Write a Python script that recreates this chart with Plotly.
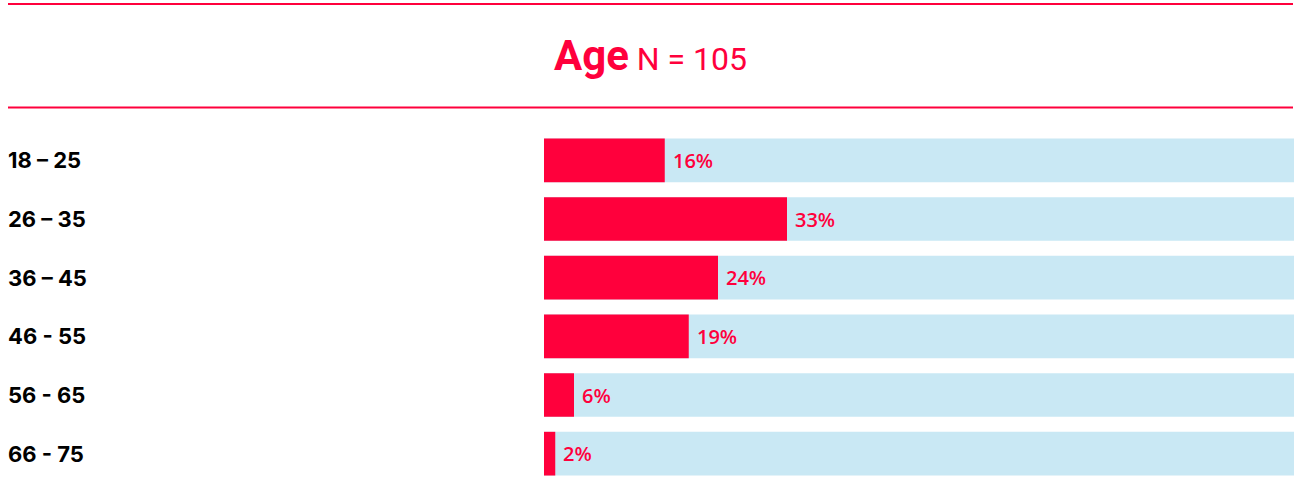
import plotly.graph_objects as go

categories = ["18 – 25", "26 – 35", "36 – 45", "46 - 55", "56 - 65", "66 - 75"]
values = [16.1, 32.4, 23.2, 19.3, 4.0, 1.5]
labels = ["16%", "33%", "24%", "19%", "6%", "2%"]
full = [100] * len(categories)

RED = "#FF003C"
BLUE = "#C9E8F4"

W, H = 1296, 501
ml, mr, mt, mb = 544, 2, 131, 18
pw = W - ml - mr
ph = H - mt - mb

fig = go.Figure()
fig.add_trace(go.Bar(y=categories, x=full, orientation="h", marker=dict(color=BLUE, line=dict(width=0)),
                     hoverinfo="skip", showlegend=False))
fig.add_trace(go.Bar(y=categories, x=values, orientation="h", marker=dict(color=RED, line=dict(width=0)),
                     showlegend=False))

for c, v, t in zip(categories, values, labels):
    fig.add_annotation(x=v, y=c, xref="x", yref="y", text=t, showarrow=False,
                       xanchor="left", xshift=6,
                       font=dict(family="Open Sans", size=20, weight=600, color=RED))
    fig.add_annotation(x=(8 - ml) / pw, y=c, xref="paper", yref="y", text=f"<b>{c}</b>", showarrow=False,
                       xanchor="left", xshift=-2, font=dict(family="Inter", size=22, color="#000000"))

def py(pix):
    return (H - mb - pix) / ph

x0 = (8 - ml) / pw
x1 = (1293 - ml) / pw
for yy in (4, 107.5):
    fig.add_shape(type="line", xref="paper", yref="paper", x0=x0, x1=x1, y0=py(yy), y1=py(yy),
                  line=dict(color=RED, width=2))

fig.add_annotation(x=(650 - ml) / pw, y=py(55), xref="paper", yref="paper", showarrow=False,
                   xanchor="center", yanchor="middle",
                   text="<b><span style='font-size:42px'>Age</span></b> <span style='font-size:32px'>N = 105</span>",
                   font=dict(family="Roboto", size=32, color=RED))

fig.update_layout(
    width=W, height=H,
    margin=dict(l=ml, r=mr, t=mt, b=mb),
    paper_bgcolor="white", plot_bgcolor="white",
    barmode="overlay", bargap=0.255,
    xaxis=dict(range=[0, 100], visible=False, fixedrange=True),
    yaxis=dict(autorange="reversed", visible=False, fixedrange=True),
)

post = ("document.body.style.margin='0';document.body.style.overflow='hidden';"
        "var gd=document.getElementById('{plot_id}');gd.style.width='1296px';gd.style.height='501px';"
        "Plotly.relayout(gd,{width:1296,height:501});")

fig.write_html("out.html", post_script=post, config={"responsive": False, "displayModeBar": False})
